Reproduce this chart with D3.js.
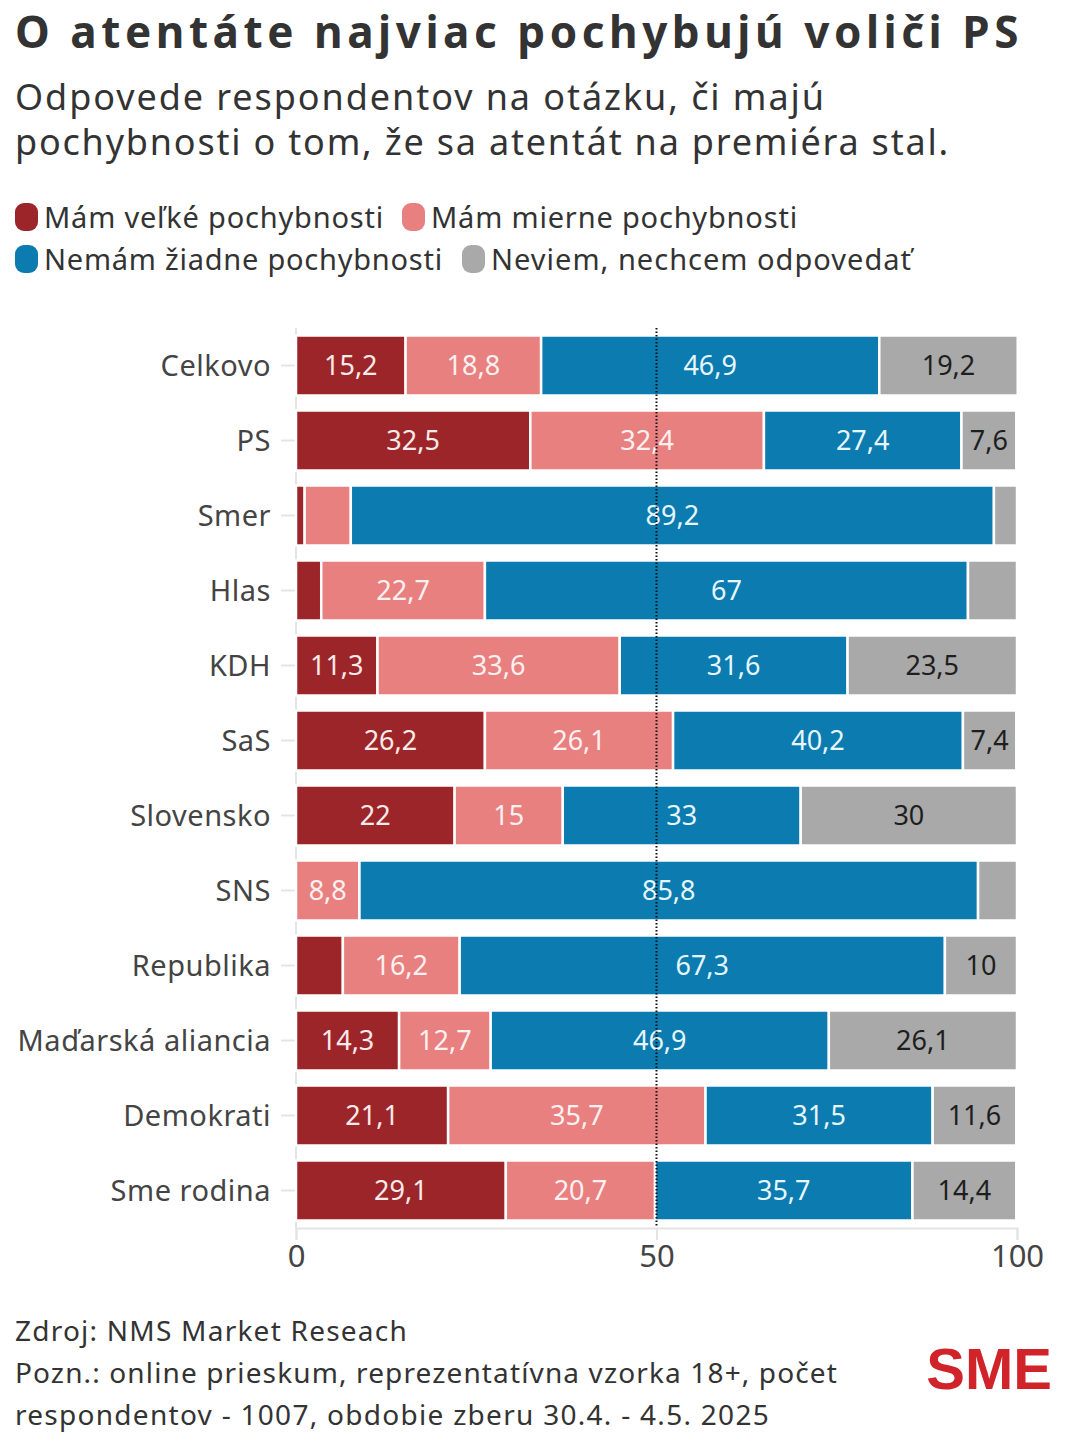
<!DOCTYPE html>
<html><head><meta charset="utf-8">
<script src="https://cdn.jsdelivr.net/npm/d3@7"></script>
<style>body{margin:0;background:#fff}svg{display:block;font-family:"Noto Sans",sans-serif}</style>
</head><body><svg id="c" width="1066" height="1445"></svg>
<script>
const categories = ["Celkovo","PS","Smer","Hlas","KDH","SaS","Slovensko","SNS","Republika","Maďarská aliancia","Demokrati","Sme rodina"];
const seriesNames = ["Mám veľké pochybnosti","Mám mierne pochybnosti","Nemám žiadne pochybnosti","Neviem, nechcem odpovedať"];
const velke   = [15.2,32.5,1.2,3.5,11.3,26.2,22,0,6.5,14.3,21.1,29.1];
const mierne  = [18.8,32.4,6.4,22.7,33.6,26.1,15,8.8,16.2,12.7,35.7,20.7];
const ziadne  = [46.9,27.4,89.2,67,31.6,40.2,33,85.8,67.3,46.9,31.5,35.7];
const neviem  = [19.2,7.6,3.2,6.8,23.5,7.4,30,5.4,10,26.1,11.6,14.4];
// which values carry a printed label (small unlabeled segments are not labelled)
const showLabel = [
  [true,true,false,false,true,true,true,false,false,true,true,true],
  [true,true,false,true,true,true,true,true,true,true,true,true],
  [true,true,true,true,true,true,true,true,true,true,true,true],
  [true,true,false,false,true,true,true,false,true,true,true,true]
];
const xTicks = [0,50,100];
const titleText = "O atentáte najviac pochybujú voliči PS";
const subtitleLines = ["Odpovede respondentov na otázku, či majú","pochybnosti o tom, že sa atentát na premiéra stal."];
const footLines = ["Zdroj: NMS Market Reseach","Pozn.: online prieskum, reprezentatívna vzorka 18+, počet","respondentov - 1007, obdobie zberu 30.4. - 4.5. 2025"];

const colors = ["#9c2529","#e88080","#0b7bb0","#a9a9a9"];
const textColors = ["#fbeaea","#fdf0f0","#e6f6ff","#1e1e1e"];

const svg = d3.select("#c");
const x = d3.scaleLinear().domain([0,100]).range([296,1017]);
const y = d3.scaleBand().domain(categories).range([328,1228]).paddingInner(0.2).paddingOuter(0.1);

// stretch text to a target width by letter spacing
function spread(sel, target){
  const w = sel.node().getComputedTextLength();
  const n = sel.text().length;
  if (n > 1) sel.attr("letter-spacing", (target - w)/n);
  return sel;
}

// title
spread(svg.append("text").attr("x",15).attr("y",48).attr("font-size",44).attr("font-weight",700).attr("fill","#333")
  .text(titleText), 1008);
const subTargets = [811, 935];
subtitleLines.forEach((t,i)=> spread(svg.append("text").attr("x",15).attr("y",110+i*45).attr("font-size",36).attr("fill","#333").text(t), subTargets[i]));

// legend
const legPos = [[15,203],[402,203],[15,245],[462,245]];
const legTargets = [340,367,399,421];
seriesNames.forEach((n,i)=>{
  const g = svg.append("g");
  g.append("rect").attr("x",legPos[i][0]).attr("y",legPos[i][1]).attr("width",23).attr("height",28).attr("rx",9).attr("fill",colors[i]);
  spread(g.append("text").attr("x",legPos[i][0]+29).attr("y",legPos[i][1]+25).attr("font-size",29).attr("fill","#333").text(n), legTargets[i]);
});

// axis lines
svg.append("line").attr("x1",x(0)).attr("x2",x(0)).attr("y1",328).attr("y2",1228).attr("stroke","#e4e4e4").attr("stroke-width",2);
const xa = svg.append("g").attr("transform","translate(0,1228)")
  .call(d3.axisBottom(x).tickValues(xTicks).tickSize(12).tickPadding(5).tickFormat(d3.format("d")));
xa.select(".domain").attr("stroke","#e4e4e4").attr("stroke-width",2);
xa.selectAll(".tick line").attr("stroke","#e4e4e4").attr("stroke-width",2);
xa.selectAll(".tick text").attr("font-size",31).attr("fill","#444").attr("font-family","Noto Sans");

// category labels + tick stubs
categories.forEach(c=>{
  const cy = y(c)+y.bandwidth()/2;
  svg.append("line").attr("x1",281).attr("x2",296).attr("y1",cy).attr("y2",cy).attr("stroke","#e4e4e4").attr("stroke-width",2);
  svg.append("text").attr("x",271).attr("y",cy).attr("dy","0.36em").attr("text-anchor","end").attr("font-size",29)
    .attr("letter-spacing",0.5).attr("fill","#444").text(c);
});

// stacked bars
const rows = categories.map((c,i)=>({cat:c, vals:[velke[i],mierne[i],ziadne[i],neviem[i]]}));
const fmt = v => String(v).replace(".",",");
rows.forEach((r,ri)=>{
  let acc = 0;
  r.vals.forEach((v,si)=>{
    const x0 = x(acc), x1 = x(acc+v);
    acc += v;
    if (v<=0) return;
    svg.append("rect").attr("x",x0).attr("y",y(r.cat)).attr("width",Math.max(0,x1-x0)).attr("height",y.bandwidth())
      .attr("fill",colors[si]).attr("stroke","#fff").attr("stroke-width",2.5);
    if (showLabel[si][ri]) svg.append("text").attr("x",(x0+x1)/2).attr("y",y(r.cat)+y.bandwidth()/2).attr("dy","0.36em")
      .attr("text-anchor","middle").attr("font-size",27).attr("fill",textColors[si]).text(fmt(v));
  });
});

// 50 reference line
svg.append("line").attr("x1",x(50)).attr("x2",x(50)).attr("y1",328).attr("y2",1226).attr("stroke","#111").attr("stroke-width",2).attr("stroke-dasharray","1.5,2");

// footer
const footTargets = [393,823,755];
footLines.forEach((t,i)=> spread(svg.append("text").attr("x",15).attr("y",1341+i*42).attr("font-size",28).attr("fill","#333").text(t), footTargets[i]));
svg.append("text").attr("x",1052).attr("y",1389).attr("text-anchor","end").attr("font-size",58).attr("font-weight",700)
  .attr("fill","#d0232a").attr("font-family","Liberation Sans").attr("letter-spacing","0").text("SME");
</script></body></html>
